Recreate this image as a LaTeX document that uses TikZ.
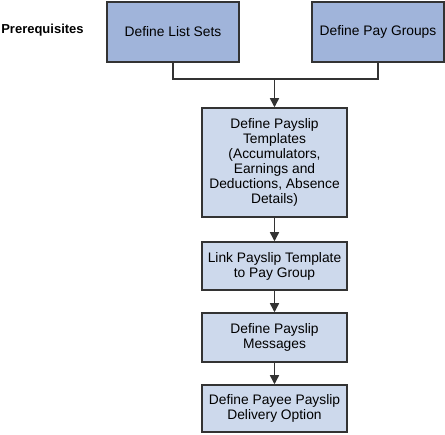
\documentclass[tikz,border=0pt]{standalone}
\usepackage{fontspec}
\setmainfont{Liberation Sans}
\usepackage{tikz}
\usetikzlibrary{arrows.meta,calc,positioning}

\definecolor{prereqblue}{RGB}{160,180,218}
\definecolor{stepblue}{RGB}{205,217,236}
\definecolor{edgegray}{RGB}{51,51,51}

\begin{document}
\begin{tikzpicture}[x=1pt,y=-1pt,
    line width=1.5pt,
    every node/.style={draw=edgegray,align=center,inner sep=0pt,
      font=\fontsize{13.8}{15}\selectfont},
    prebox/.style={fill=prereqblue,minimum width=132pt,minimum height=60pt},
    stepbox/.style={fill=stepblue,minimum width=145pt},
    flow/.style={draw=edgegray,-{Triangle[length=9pt,width=9pt]}}]
    \useasboundingbox (0,0) rectangle (445,435);
    \node[draw=none,font=\fontsize{13}{15}\selectfont\bfseries] (pre) at (42.5,30) {Prerequisites};
    \node[prebox] (lists) at (173,32) {Define List Sets};
    \node[prebox] (groups) at (378,32) {Define Pay Groups};
    \node[stepbox,minimum height=109pt] (tmpl) at (274.5,162.5)
      {Define Payslip\\Templates\\(Accumulators,\\Earnings and\\Deductions, Absence\\Details)};
    \node[stepbox,minimum height=48pt] (link) at (274.5,266)
      {Link Payslip Template\\to Pay Group};
    \node[stepbox,minimum height=49pt] (msgs) at (274.5,337.5)
      {Define Payslip\\Messages};
    \node[stepbox,minimum height=47pt] (dlvry) at (274.5,408.5)
      {Define Payee Payslip\\Delivery Option};
    \coordinate (join) at (274.5,79);
    \draw[edgegray] (lists.south) |- (join) -| (groups.south);
    \draw[flow] (join)--(tmpl);
    \draw[flow] (tmpl)--(link);
    \draw[flow] (link)--(msgs);
    \draw[flow] (msgs)--(dlvry);
\end{tikzpicture}
\end{document}
